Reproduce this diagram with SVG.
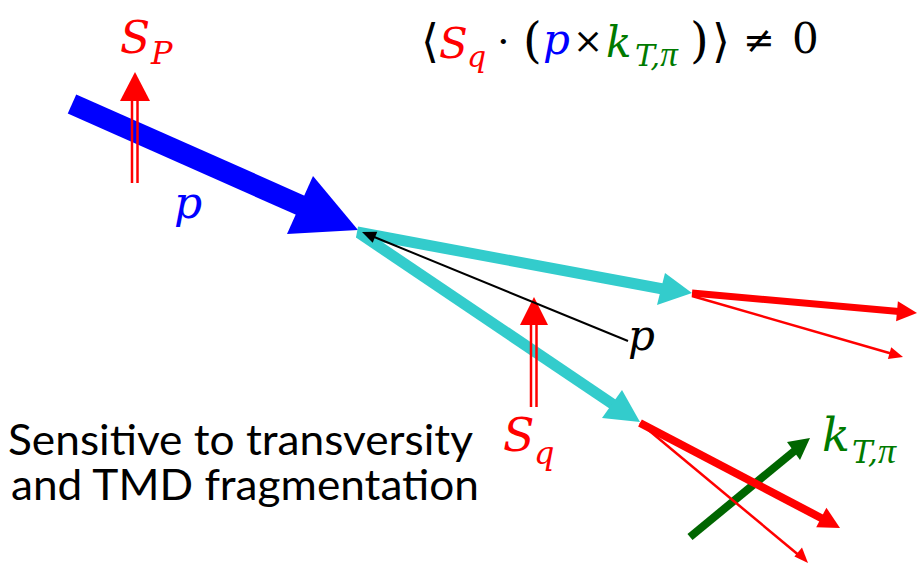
<svg xmlns="http://www.w3.org/2000/svg" width="917" height="566" viewBox="0 0 917 566">
<style>
.m{font-family:"DejaVu Serif","Liberation Serif",serif;font-style:italic}
.pi{font-family:"Liberation Serif","DejaVu Serif",serif;font-style:italic}
.r{font-family:"DejaVu Serif","Liberation Serif",serif}
.red{fill:#FF0000}
.blue{fill:#0000FF}
.grn{fill:#007A00}
.blk{fill:#000}
.body{font-family:Lato,"Open Sans",sans-serif;font-size:42px;fill:#000}
.sh{fill:none;stroke-linecap:butt}
</style>
<rect width="917" height="566" fill="#fff"/>
<g id="connectors">
  <g id="beam-p">
    <line class="sh" x1="72" y1="104" x2="302" y2="206" stroke="#0000FF" stroke-width="21"/>
    <polygon class="blue" points="358,230 313,176 287,234"/>
  </g>
  <g id="cyan-upper">
    <line class="sh" x1="357" y1="232" x2="663" y2="289" stroke="#33CCCC" stroke-width="11"/>
    <polygon fill="#33CCCC" points="692,293 665,273 657,305"/>
  </g>
  <g id="cyan-lower">
    <line class="sh" x1="359" y1="233" x2="614" y2="405" stroke="#33CCCC" stroke-width="11"/>
    <polygon fill="#33CCCC" points="640,422 622,390 602,418"/>
  </g>
  <g id="spin-p">
    <line class="sh" x1="132" y1="183" x2="132" y2="100" stroke="#FF0000" stroke-width="2.5"/>
    <line class="sh" x1="137.5" y1="183" x2="137.5" y2="100" stroke="#FF0000" stroke-width="2.5"/>
    <polygon class="red" points="135,72 120,101 150,101"/>
  </g>
  <g id="spin-q">
    <line class="sh" x1="531" y1="407" x2="531" y2="324" stroke="#FF0000" stroke-width="2.5"/>
    <line class="sh" x1="536.5" y1="407" x2="536.5" y2="324" stroke="#FF0000" stroke-width="2.5"/>
    <polygon class="red" points="534,297 520,325 548,325"/>
  </g>
  <g id="p-axis">
    <line class="sh" x1="628" y1="341" x2="373" y2="236.5" stroke="#000" stroke-width="2"/>
    <polygon class="blk" points="362,232 377.3,231.8 372.7,242.8"/>
  </g>
  <g id="red-upper-thick">
    <line class="sh" x1="692" y1="293" x2="899" y2="311.4" stroke="#FF0000" stroke-width="7"/>
    <polygon class="red" points="917,313 897.9,301.3 896.1,321.3"/>
  </g>
  <g id="red-upper-thin">
    <line class="sh" x1="692" y1="296" x2="891" y2="353.5" stroke="#FF0000" stroke-width="2.5"/>
    <polygon class="red" points="903,357 891.2,347.3 887.9,358.9"/>
  </g>
  <g id="kt-arrow">
    <line class="sh" x1="690" y1="537" x2="795" y2="450.5" stroke="#006600" stroke-width="8"/>
    <polygon fill="#006600" points="810,438 787,442 800,460"/>
  </g>
  <g id="red-lower-thick">
    <line class="sh" x1="640" y1="423" x2="823" y2="519" stroke="#FF0000" stroke-width="8"/>
    <polygon class="red" points="840,528 826.4,507.7 816.2,527.2"/>
  </g>
  <g id="red-lower-thin">
    <line class="sh" x1="640" y1="423" x2="798" y2="554.5" stroke="#FF0000" stroke-width="2.5"/>
    <polygon class="red" points="808,563 802,547.5 794.4,556.6"/>
  </g>
</g>
<g id="label-SP">
  <text class="m red" x="120" y="53" font-size="44">S</text>
  <text class="m red" x="151" y="64" font-size="32">P</text>
</g>
<g id="label-p-blue">
  <text class="m blue" x="174" y="218" font-size="44">p</text>
</g>
<g id="label-p-black">
  <text class="m blk" x="628" y="350" font-size="42">p</text>
</g>
<g id="label-Sq">
  <text class="m red" x="503" y="451" font-size="46">S</text>
  <text class="m red" x="534" y="464" font-size="32">q</text>
</g>
<g id="label-kT">
  <text class="m grn" x="822" y="451" font-size="46">k</text>
  <text class="m grn" x="852" y="463" font-size="31">T,<tspan class="pi" font-size="36">π</tspan></text>
</g>
<g id="formula">
  <text class="r blk" x="421" y="57" font-size="46">⟨</text>
  <text class="m red" x="439" y="58" font-size="42">S</text>
  <text class="m red" x="467" y="67" font-size="30">q</text>
  <text class="r blk" x="497" y="55" font-size="40">·</text>
  <text class="r blk" x="523" y="57" font-size="48">(</text>
  <text class="m blue" x="543" y="54" font-size="42">p</text>
  <text class="r blk" x="573" y="53" font-size="36">×</text>
  <text class="m grn" x="606" y="57" font-size="42">k</text>
  <text class="m grn" x="635" y="66" font-size="30">T,<tspan class="pi" font-size="35">π</tspan></text>
  <text class="r blk" x="690" y="57" font-size="48">)</text>
  <text class="r blk" x="712" y="57" font-size="46">⟩</text>
  <text class="r blk" x="743" y="53" font-size="38">≠</text>
  <text class="r blk" x="792" y="53" font-size="42">0</text>
</g>
<g id="caption">
  <text class="body" x="8" y="455" textLength="465" lengthAdjust="spacingAndGlyphs">Sensitive to transversity</text>
  <text class="body" x="11" y="500" textLength="468" lengthAdjust="spacingAndGlyphs">and TMD fragmentation</text>
</g>
</svg>
